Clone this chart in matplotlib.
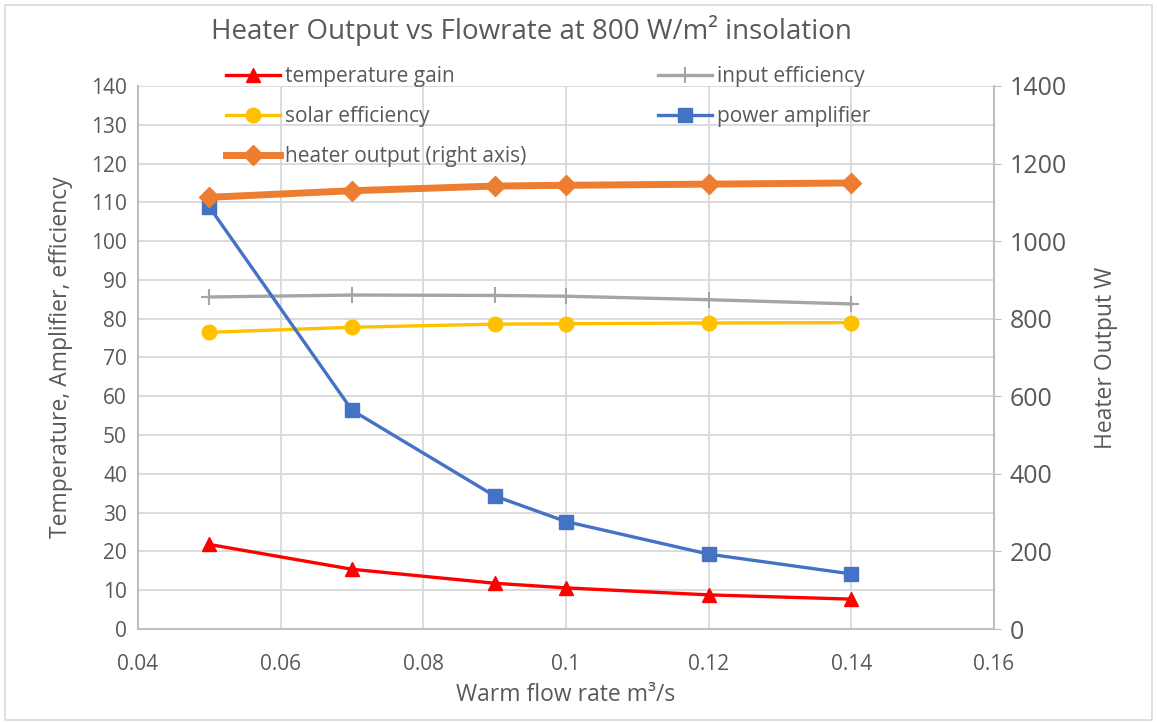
import matplotlib
matplotlib.use("Agg")
import matplotlib.pyplot as plt
from matplotlib.patches import Rectangle

plt.rcParams['font.family'] = ['Open Sans', 'DejaVu Sans']

# data
flow = [0.05, 0.07, 0.09, 0.1, 0.12, 0.14]
temp_gain = [21.8, 15.4, 11.8, 10.6, 8.8, 7.7]
input_eff = [85.6, 86.1, 86.0, 85.8, 84.9, 83.8]
solar_eff = [76.5, 77.8, 78.6, 78.7, 78.9, 79.0]
power_amp = [108.8, 56.4, 34.3, 27.7, 19.3, 14.2]
heater_out = [1113, 1130, 1142, 1144, 1147, 1150]

x_ticks = [0.04, 0.06, 0.08, 0.1, 0.12, 0.14, 0.16]
x_labels = ['0.04', '0.06', '0.08', '0.1', '0.12', '0.14', '0.16']

txt = '#595959'
grid = '#d9d9d9'

fig = plt.figure(figsize=(11.57, 7.22), dpi=100)
ax = fig.add_axes([0.1193, 0.1288, 0.7398, 0.7521])
ax2 = ax.twinx()

l1, = ax.plot(flow, temp_gain, color='#ff0000', lw=2.4, marker='^', ms=10, label='temperature gain')
l2, = ax.plot(flow, input_eff, color='#a5a5a5', lw=2.4, marker='+', ms=11, mew=1.5, label='input efficiency')
l3, = ax.plot(flow, solar_eff, color='#ffc000', lw=2.4, marker='o', ms=10.5, label='solar efficiency')
l4, = ax.plot(flow, power_amp, color='#4472c4', lw=2.4, marker='s', ms=9.5, label='power amplifier')
l5, = ax2.plot(flow, heater_out, color='#ed7d31', lw=5, marker='D', ms=10, label='heater output (right axis)')

ax.set_xlim(0.04, 0.16)
ax.set_ylim(0, 140)
ax2.set_ylim(0, 1400)
ax.set_xticks(x_ticks)
ax.set_xticklabels(x_labels)
ax.set_yticks(range(0, 141, 10))
ax2.set_yticks(range(0, 1401, 200))

ax.grid(True, color=grid, lw=1.3)
ax.set_axisbelow(True)
for a in (ax, ax2):
    for s in a.spines.values():
        s.set_visible(False)
ax.spines['left'].set_visible(True)
ax.spines['bottom'].set_visible(True)
ax2.spines['right'].set_visible(True)
for s in ('left', 'bottom'):
    ax.spines[s].set_color('#bfbfbf')
    ax.spines[s].set_linewidth(1.5)
ax2.spines['right'].set_color('#bfbfbf')
ax2.spines['right'].set_linewidth(1.5)

ax.tick_params(axis='both', length=0, labelsize=15, colors=txt)
ax.tick_params(axis='x', pad=18)
ax.tick_params(axis='y', pad=8)
ax2.tick_params(axis='y', length=5, color='#bfbfbf', labelsize=18, colors=txt, pad=6)

ax.set_xlabel('Warm flow rate m³/s', fontsize=16.5, color=txt, labelpad=6)
ax.set_ylabel('Temperature, Amplifier, efficiency', fontsize=16.5, color=txt, labelpad=13)
ax2.set_ylabel('Heater Output W', fontsize=16.5, color=txt, labelpad=20)

fig.text(0.459, 0.958, 'Heater Output vs Flowrate at 800 W/m² insolation',
         ha='center', va='center', fontsize=20, color=txt)

leg = ax.legend(handles=[l1, l3, l5, l2, l4], ncol=2, loc='upper left',
                bbox_to_anchor=(0.179, 0.934), bbox_transform=fig.transFigure,
                frameon=False, fontsize=15, handlelength=2.6, handletextpad=0.25,
                columnspacing=6.3, labelspacing=0.9, labelcolor=txt)

fig.patches.append(Rectangle((0.004, 0.003), 0.992, 0.99, transform=fig.transFigure,
                             fill=False, edgecolor='#d9d9d9', lw=1.2))

fig.savefig('out.png', dpi=100, facecolor='white')
